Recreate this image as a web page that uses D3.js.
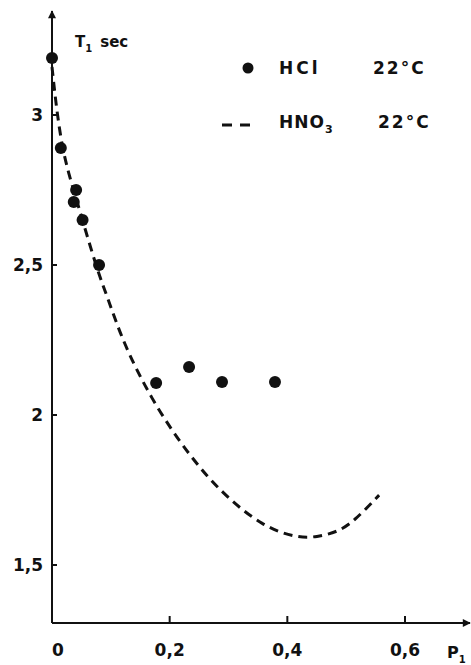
<html>
<head>
<style>
  body { margin: 0; background: #fff; }
  text { font-family: "DejaVu Sans", sans-serif; font-weight: bold; fill: #111; }
</style>
</head>
<body>
<svg id="container" width="471" height="665"></svg>
<script src="https://cdn.jsdelivr.net/npm/d3@7"></script>
<script>
  // HCl 22 °C measured points (P1, T1 in sec)
  let hclP = [0, 0.015, 0.041, 0.037, 0.052, 0.08, 0.177, 0.233, 0.289, 0.379]
  let hclT = [3.19, 2.89, 2.75, 2.71, 2.65, 2.5, 2.107, 2.16, 2.11, 2.11]

  // HNO3 22 °C curve
  let hno3P = [0, 0.015, 0.04, 0.077, 0.095, 0.121, 0.172, 0.235, 0.291, 0.359, 0.417, 0.45, 0.485, 0.512, 0.556]
  let hno3T = [3.16, 2.89, 2.73, 2.48, 2.39, 2.24, 2.04, 1.86, 1.735, 1.627, 1.59, 1.593, 1.61, 1.643, 1.733]

  let xTicks = [0, 0.2, 0.4, 0.6]
  let xTickLabels = ["0", "0,2", "0,4", "0,6"]
  let yTicks = [1.5, 2, 2.5, 3]
  let yTickLabels = ["1,5", "2", "2,5", "3"]

  let svg = d3.select("#container")

  // scales: origin at (52,623)
  let x = d3.scaleLinear().domain([0, 0.6]).range([52, 405])
  let y = d3.scaleLinear().domain([1.5, 3]).range([565, 115])

  let ink = "#111"

  // arrow heads
  let defs = svg.append("defs")
  defs.append("marker")
      .attr("id", "arrow")
      .attr("viewBox", "0 0 10 10")
      .attr("refX", 9).attr("refY", 5)
      .attr("markerWidth", 9).attr("markerHeight", 8)
      .attr("markerUnits", "userSpaceOnUse")
      .attr("orient", "auto")
      .append("path")
      .attr("d", "M0,0 L10,5 L0,10 Z")
      .attr("fill", ink)

  let x0 = x(0), yBase = 623

  // y axis
  svg.append("line")
      .attr("x1", x0).attr("y1", yBase)
      .attr("x2", x0).attr("y2", 11)
      .attr("stroke", ink).attr("stroke-width", 2)
      .attr("marker-end", "url(#arrow)")

  // x axis
  svg.append("line")
      .attr("x1", x0).attr("y1", yBase)
      .attr("x2", 470).attr("y2", yBase)
      .attr("stroke", ink).attr("stroke-width", 2)
      .attr("marker-end", "url(#arrow)")

  // y ticks (pointing inside)
  svg.selectAll(".ytick")
      .data(yTicks)
      .enter().append("line")
      .attr("x1", x0).attr("x2", x0 + 5)
      .attr("y1", d => y(d)).attr("y2", d => y(d))
      .attr("stroke", ink).attr("stroke-width", 2)

  svg.selectAll(".ylab")
      .data(yTicks)
      .enter().append("text")
      .attr("x", 43)
      .attr("y", d => y(d) + 6)
      .attr("text-anchor", "end")
      .attr("font-size", 17)
      .text((d, i) => yTickLabels[i])

  // x ticks (pointing up), none at origin
  svg.selectAll(".xtick")
      .data(xTicks.slice(1))
      .enter().append("line")
      .attr("x1", d => x(d)).attr("x2", d => x(d))
      .attr("y1", yBase).attr("y2", yBase - 7)
      .attr("stroke", ink).attr("stroke-width", 2)

  svg.selectAll(".xlab")
      .data(xTicks)
      .enter().append("text")
      .attr("x", (d, i) => i == 0 ? x(d) + 6 : x(d))
      .attr("y", 656)
      .attr("text-anchor", "middle")
      .attr("font-size", 17)
      .text((d, i) => xTickLabels[i])

  // axis titles
  let yt = svg.append("text").attr("x", 75).attr("y", 47).attr("font-size", 15)
  yt.append("tspan").text("T")
  yt.append("tspan").attr("font-size", 10).attr("dy", 5).text("1")
  yt.append("tspan").attr("dy", -5).attr("dx", 8).text("sec")

  let xt = svg.append("text").attr("x", 447).attr("y", 658).attr("font-size", 16)
  xt.append("tspan").text("P")
  xt.append("tspan").attr("font-size", 10).attr("dy", 5).text("1")

  // dashed HNO3 curve
  let line = d3.line()
      .x(d => x(d[0]))
      .y(d => y(d[1]))
      .curve(d3.curveBasis)

  svg.append("path")
      .attr("d", line(d3.zip(hno3P, hno3T)))
      .attr("fill", "none")
      .attr("stroke", ink)
      .attr("stroke-width", 3)
      .attr("stroke-dasharray", "9,6")

  // HCl dots
  svg.selectAll(".dot")
      .data(d3.zip(hclP, hclT))
      .enter().append("circle")
      .attr("cx", d => x(d[0]))
      .attr("cy", d => y(d[1]))
      .attr("r", 6)
      .attr("fill", ink)

  // legend
  svg.append("circle").attr("cx", 248).attr("cy", 68).attr("r", 5.5).attr("fill", ink)
  svg.append("text").attr("x", 279).attr("y", 74).attr("font-size", 17)
      .attr("letter-spacing", 3).text("HCl")
  svg.append("text").attr("x", 373).attr("y", 74).attr("font-size", 17)
      .attr("letter-spacing", 2).text("22°C")

  svg.append("line").attr("x1", 222).attr("x2", 251).attr("y1", 125).attr("y2", 125)
      .attr("stroke", ink).attr("stroke-width", 3).attr("stroke-dasharray", "10,8")
  let hn = svg.append("text").attr("x", 279).attr("y", 128).attr("font-size", 17)
      .attr("letter-spacing", 1)
  hn.append("tspan").text("HNO")
  hn.append("tspan").attr("font-size", 11).attr("dy", 5).text("3")
  svg.append("text").attr("x", 378).attr("y", 128).attr("font-size", 17)
      .attr("letter-spacing", 2).text("22°C")
</script>
</body>
</html>
